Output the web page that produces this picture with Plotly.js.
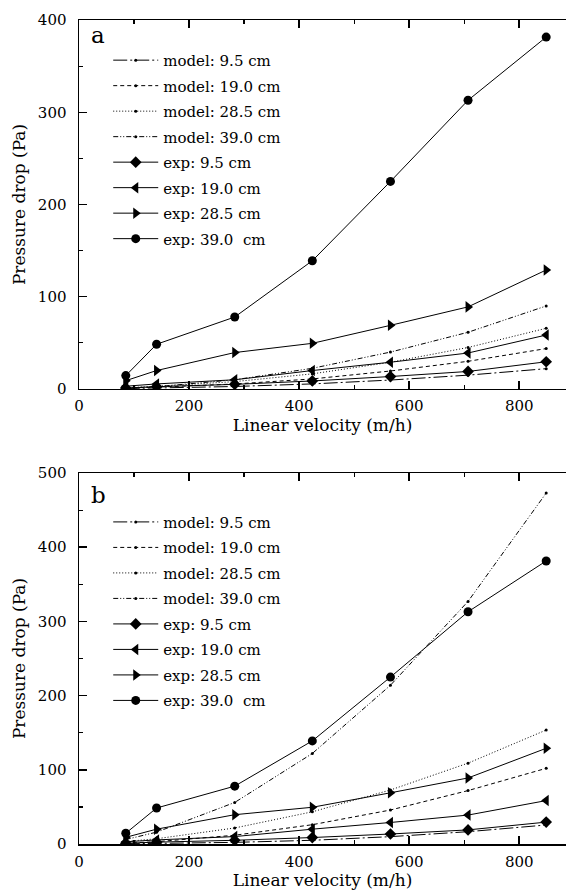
<!DOCTYPE html>
<html>
<head>
<meta charset="utf-8">
<script src="https://cdn.plot.ly/plotly-3.0.1.min.js"></script>
<style>html,body{margin:0;padding:0;background:#fff;}#chart{width:566px;height:894px;}</style>
</head>
<body>
<div id="chart"></div>
<script>
// Linear velocity (m/h)
const velocity = [85, 141, 283, 424, 566, 707, 849];

// Experimental pressure drop (Pa), same in both panels
const exp95  = [1, 2.5, 5, 8.7, 13.5, 19, 29.5];
const exp190 = [3, 5.5, 10, 20, 29, 39, 58.5];
const exp285 = [9, 20, 39.5, 49.5, 69, 89, 129];
const exp390 = [14.5, 48.5, 78, 139, 225, 313, 381.5];

// Panel a: model
const modelA95  = [0.5, 1, 2.7, 5.5, 9.7, 15, 22];
const modelA190 = [1, 2, 5.4, 10.9, 19.5, 30, 43.8];
const modelA285 = [1.4, 2.9, 8, 16.4, 29, 45, 65.8];
const modelA390 = [0.9, 2.5, 10, 22.4, 40, 61.5, 90];

// Panel b: model
const modelB95  = [0.3, 0.6, 2.2, 5, 9.9, 16.6, 25.6];
const modelB190 = [1.2, 3.1, 11.8, 26, 45.8, 72, 102];
const modelB285 = [3.4, 7.1, 21.6, 43.4, 72.8, 109, 153.6];
const modelB390 = [6, 16, 56, 122, 214, 327, 473];

const labels = ['model: 9.5 cm', 'model: 19.0 cm', 'model: 28.5 cm', 'model: 39.0 cm',
                'exp: 9.5 cm', 'exp: 19.0 cm', 'exp: 28.5 cm', 'exp: 39.0  cm'];

const FONT = 'DejaVu Serif';
const modelDash = ['14px,3px,2px,3px', '4px,3px', '1px,2px', '5px,2px,1px,2px,1px,2px'];
const expSymbol = ['diamond', 'triangle-left', 'triangle-right', 'circle'];
const expSize = [9, 10, 10, 9];

function panel(models, exps, xa, ya, leg) {
  const out = [];
  models.forEach((m, i) => {
    out.push({x: velocity, y: m, type: 'scatter', mode: 'lines+markers', name: labels[i],
      xaxis: xa, yaxis: ya, legend: leg, legendgroup: leg + 'm' + i,
      line: {color: '#000', width: 1, dash: modelDash[i]}, marker: {color: '#000', size: 3}});
  });
  exps.forEach((e, i) => {
    out.push({x: velocity, y: e, type: 'scatter', mode: 'lines+markers', name: labels[4 + i],
      xaxis: xa, yaxis: ya, legend: leg, legendgroup: leg + 'e' + i,
      line: {color: '#000', width: 1}, marker: {color: '#000', size: expSize[i], symbol: expSymbol[i]}});
  });
  return out;
}

const data = [].concat(
  panel([modelA95, modelA190, modelA285, modelA390], [exp95, exp190, exp285, exp390], 'x', 'y', 'legend'),
  panel([modelB95, modelB190, modelB285, modelB390], [exp95, exp190, exp285, exp390], 'x2', 'y2', 'legend2')
);

function xax(anchor) {
  return {anchor: anchor, domain: [0, 1], range: [0, 885], dtick: 200, tick0: 0,
    ticks: 'inside', ticklen: 8, tickwidth: 1.5, tickcolor: '#000',
    showline: true, linecolor: '#000', linewidth: 1.5, mirror: 'ticks',
    showgrid: false, zeroline: false, ticklabelstandoff: 3,
    minor: {dtick: 100, ticks: 'inside', ticklen: 4, tickwidth: 1.2, tickcolor: '#000', showgrid: false},
    tickfont: {family: FONT, size: 15, color: '#000'},
    title: {text: 'Linear velocity (m/h)', font: {family: FONT, size: 17, color: '#000'}, standoff: 3}};
}
function yax(anchor, dom, rng) {
  return {anchor: anchor, domain: dom, range: rng, dtick: 100, tick0: 0,
    ticks: 'inside', ticklen: 8, tickwidth: 1.5, tickcolor: '#000',
    showline: true, linecolor: '#000', linewidth: 1.5, mirror: false,
    showgrid: false, zeroline: false, ticklabelstandoff: 8,
    minor: {dtick: 50, ticks: 'inside', ticklen: 4, tickwidth: 1.2, tickcolor: '#000', showgrid: false},
    tickfont: {family: FONT, size: 15, color: '#000'},
    title: {text: 'Pressure drop (Pa)', font: {family: FONT, size: 17, color: '#000'}, standoff: 8}};
}

const legendBase = {xanchor: 'left', yanchor: 'top', bgcolor: 'rgba(0,0,0,0)', borderwidth: 0, itemwidth: 45,
  font: {family: FONT, size: 15, color: '#000'}, tracegroupgap: 3};

const layout = {
  width: 566, height: 894, margin: {l: 79, r: 0, t: 20, b: 50},
  paper_bgcolor: '#fff', plot_bgcolor: '#fff', showlegend: true,
  font: {family: FONT, color: '#000'},
  xaxis: xax('y'), yaxis: yax('x', [0.5522, 1], [0, 400]),
  xaxis2: xax('y2'), yaxis2: yax('x2', [0, 0.4502], [0, 500]),
  legend: Object.assign({x: 0.06, y: 0.971}, legendBase),
  legend2: Object.assign({x: 0.06, y: 0.4106}, legendBase),
  annotations: [
    {text: 'a', xref: 'paper', yref: 'paper', x: 0.02, y: 0.9818, xanchor: 'left', yanchor: 'middle',
     showarrow: false, font: {family: FONT, size: 23, color: '#000'}},
    {text: 'b', xref: 'paper', yref: 'paper', x: 0.02, y: 0.424, xanchor: 'left', yanchor: 'middle',
     showarrow: false, font: {family: FONT, size: 23, color: '#000'}}
  ]
};

Plotly.newPlot('chart', data, layout, {displayModeBar: false, staticPlot: true});
</script>
</body>
</html>
